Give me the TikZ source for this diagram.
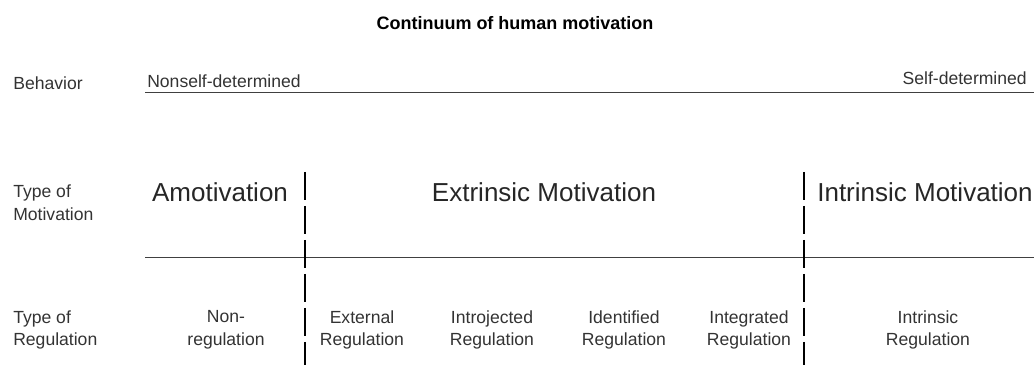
\documentclass[tikz,border=0pt]{standalone}
\usepackage{fontspec}
\setmainfont{Liberation Sans}
\begin{document}
\begin{tikzpicture}[
    lbl/.style={text=black!80, font=\fontsize{12.5}{16}\selectfont, inner sep=0pt},
    rowlbl/.style={lbl, align=left, anchor=west},
    cell/.style={lbl, align=center},
    big/.style={text=black!85, font=\fontsize{18.5}{22}\selectfont, anchor=base, inner sep=0pt},
    rule/.style={black!75, line width=0.7pt},
    divider/.style={black, line width=1.6pt, dash pattern=on 0.7cm off 0.15cm}
  ]

      \useasboundingbox (0, 0) rectangle (25.85, 9.125);

      \node[font=\bfseries\fontsize{12.8}{15}\selectfont, inner sep=0pt] (title) at (12.875, 8.55) {Continuum of human motivation};

      \node[lbl, anchor=base west] (behavior) at (0.325, 6.875) {Behavior};
      \node[lbl, anchor=base west] (nonself) at (3.675, 6.925) {Nonself-determined};
      \node[lbl, anchor=base east] (selfdet) at (25.675, 7.0) {Self-determined};

      \coordinate (behL) at (3.625, 6.81);
      \coordinate (behR) at (25.85, 6.81);
      \draw[rule] (behL) -- (behR);

      \node[rowlbl] (typemot) at (0.325, 4.06) {Type of\\Motivation};
      \node[big] (amot) at (5.5, 4.075) {Amotivation};
      \node[big] (extmot) at (13.6, 4.075) {Extrinsic Motivation};
      \node[big] (intmot) at (23.125, 4.075) {Intrinsic Motivation};

      \coordinate (midL) at (3.625, 2.7);
      \coordinate (midR) at (25.85, 2.7);
      \draw[rule] (midL) -- (midR);

      \coordinate (divAtop) at (7.625, 4.825);
      \coordinate (divAbot) at (7.625, 0);
      \draw[divider] (divAtop) -- (divAbot);

      \coordinate (divBtop) at (20.1, 4.825);
      \coordinate (divBbot) at (20.1, 0);
      \draw[divider] (divBtop) -- (divBbot);

      \node[rowlbl] (typereg) at (0.325, 0.875) {Type of\\Regulation};
      \node[cell] (nonreg) at (5.65, 0.875) {Non-\\regulation};
      \node[cell] (extreg) at (9.05, 0.875) {External\\Regulation};
      \node[cell] (introreg) at (12.3, 0.875) {Introjected\\Regulation};
      \node[cell] (identreg) at (15.6, 0.875) {Identified\\Regulation};
      \node[cell] (integreg) at (18.725, 0.875) {Integrated\\Regulation};
      \node[cell] (intreg) at (23.2, 0.875) {Intrinsic\\Regulation};

    \end{tikzpicture}
\end{document}
